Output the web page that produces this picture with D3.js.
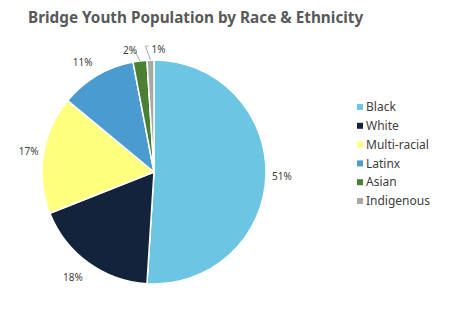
<!DOCTYPE html>
<html><head><meta charset="utf-8">
<script src="https://cdn.jsdelivr.net/npm/d3@7"></script>
<style>body{margin:0;background:#fff}</style>
</head><body>
<script>
const categories = ["Black","White","Multi-racial","Latinx","Asian","Indigenous"];
const values = [51,18,17,11,2,1];
const labels = ["51%","18%","17%","11%","2%","1%"];
const colors = ["#6CC5E3","#12233B","#FFFF80","#4A9BD0","#4B7F34","#A8A8A8"];

const W=458,H=322;
const svg=d3.select("body").append("svg").attr("width",W).attr("height",H);
svg.append("text").attr("x",28).attr("y",23).text("Bridge Youth Population by Race & Ethnicity")
  .attr("font-family","Noto Sans").attr("font-weight","bold").attr("font-size",15.3).attr("fill","#595959");

const cx=154,cy=172,r=112;
const data=categories.map((c,i)=>({c,v:values[i],l:labels[i],col:colors[i]}));
const pie=d3.pie().value(d=>d.v).sort(null);
const arcs=pie(data);
const arc=d3.arc().innerRadius(0).outerRadius(r);
const g=svg.append("g").attr("transform",`translate(${cx},${cy})`);
g.selectAll("path").data(arcs).join("path").attr("d",arc).attr("fill",d=>d.data.col)
  .attr("stroke","#fff").attr("stroke-width",1.5);

const lg=svg.append("g").attr("font-family","Noto Sans").attr("font-size",10).attr("fill","#404040");
arcs.forEach((a,i)=>{
  const m=(a.startAngle+a.endAngle)/2;
  let lr=r+22;
  let x=cx+Math.sin(m)*lr, y=cy-Math.cos(m)*lr;
  let anchor="middle";
  if(a.data.c==="Black"){x=cx+Math.sin(m)*(r+6);anchor="start";}
  if(a.data.c==="Multi-racial"){anchor="end";x=cx+Math.sin(m)*(r+5);}
  if(a.data.c==="White"){x=cx+Math.sin(m)*(r+26);y=cy-Math.cos(m)*(r+19);}
  if(a.data.c==="Latinx"){x=cx+Math.sin(m)*(r+28);y=cy-Math.cos(m)*(r+15);}
  if(a.data.c==="Asian"){
    const ex=cx+Math.sin(m)*r, ey=cy-Math.cos(m)*r;
    lg.append("path").attr("d",`M${ex},${ey}L${ex-4},${ey-8}L${ex-5},${ey-8}`).attr("stroke","#a6a6a6").attr("fill","none");
    x=ex-10;y=ey-10;anchor="middle";
  }
  if(a.data.c==="Indigenous"){
    const ex=cx+Math.sin(m)*r, ey=cy-Math.cos(m)*r;
    lg.append("path").attr("d",`M${ex},${ey}L${ex-5},${ey-14}L${ex-2},${ey-14}`).attr("stroke","#a6a6a6").attr("fill","none");
    x=ex+1;y=ey-11;anchor="start";
  }
  lg.append("text").attr("x",x).attr("y",y).attr("dy","0.35em").attr("text-anchor",anchor).text(a.data.l);
});

const leg=svg.append("g").attr("font-family","Noto Sans").attr("font-size",12).attr("fill","#404040");
data.forEach((d,i)=>{
  const y=107+i*18.8;
  leg.append("rect").attr("x",357).attr("y",y-3).attr("width",6).attr("height",6).attr("fill",d.col);
  leg.append("text").attr("x",366).attr("y",y).attr("dy","0.35em").text(d.c);
});
</script>
</body></html>
